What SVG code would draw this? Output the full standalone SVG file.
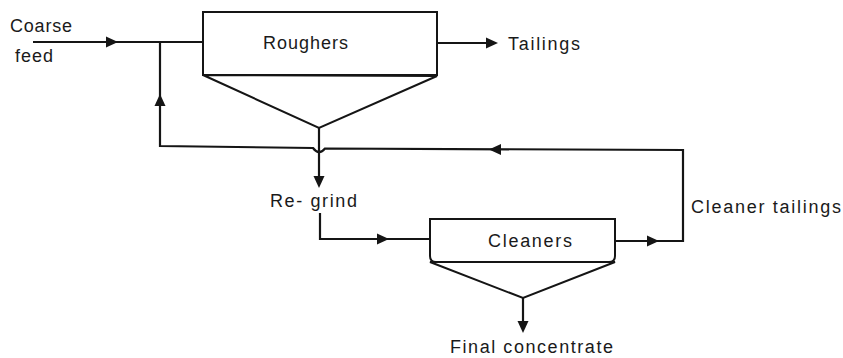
<svg xmlns="http://www.w3.org/2000/svg" xmlns:xlink="http://www.w3.org/1999/xlink" width="843" height="358" viewBox="0 0 843 358">
<style>
.ln{fill:none;stroke:#151515;stroke-width:2.2;stroke-linejoin:miter}
.box{fill:#fff;stroke:#151515;stroke-width:2}
.t{font-family:"Liberation Sans","DejaVu Sans",sans-serif;font-size:18px;fill:#1a1a1a}
.ah{fill:#151515}
</style>
<defs>
<path id="ah" d="M0,0 L-12,-5.5 L-12,5.5 Z"/>
</defs>
<rect width="843" height="358" fill="#fff"/>
<g id="connectors">
<path class="ln" d="M33,42 H203"/>
<path class="ln" d="M437,43 H495"/>
<path class="ln" d="M319,128 V184"/>
<path class="ln" d="M320,213 V239 H430"/>
<path class="ln" d="M523,298 V329"/>
<path class="ln" d="M615,241 H683 V150 L325,148.5 Q319,156 313,148 L160,146 V42"/>
<use href="#ah" class="ah" transform="translate(118,42)"/>
<use href="#ah" class="ah" transform="translate(498,43)"/>
<use href="#ah" class="ah" transform="translate(319,188) rotate(90)"/>
<use href="#ah" class="ah" transform="translate(389,239)"/>
<use href="#ah" class="ah" transform="translate(523,333) rotate(90)"/>
<use href="#ah" class="ah" transform="translate(659,241)"/>
<use href="#ah" class="ah" transform="translate(489,149.5) rotate(180)"/>
<use href="#ah" class="ah" transform="translate(160,94) rotate(-90)"/>
</g>
<g id="roughers">
<rect class="box" x="203" y="12" width="234" height="63"/>
<path class="box" d="M203,75 L437,76 L319,128 Z"/>
<text class="t" x="263" y="49" textLength="85" lengthAdjust="spacing">Roughers</text>
</g>
<g id="cleaners">
<path class="box" d="M430,219 H615 V256 Q615,262 609,262 H436 Q430,262 430,256 Z"/>
<path class="box" d="M430,262 L615,262 L523,298 Z"/>
<text class="t" x="488" y="247" textLength="84" lengthAdjust="spacing">Cleaners</text>
</g>
<g id="labels">
<text class="t" x="10" y="32" textLength="62" lengthAdjust="spacing">Coarse</text>
<text class="t" x="15" y="62" textLength="38" lengthAdjust="spacing">feed</text>
<text class="t" x="508" y="50" textLength="72" lengthAdjust="spacing">Tailings</text>
<text class="t" x="270" y="207" textLength="87" lengthAdjust="spacing">Re- grind</text>
<text class="t" x="691" y="213" textLength="150" lengthAdjust="spacing">Cleaner tailings</text>
<text class="t" x="450" y="353" textLength="163" lengthAdjust="spacing">Final concentrate</text>
</g>
</svg>
